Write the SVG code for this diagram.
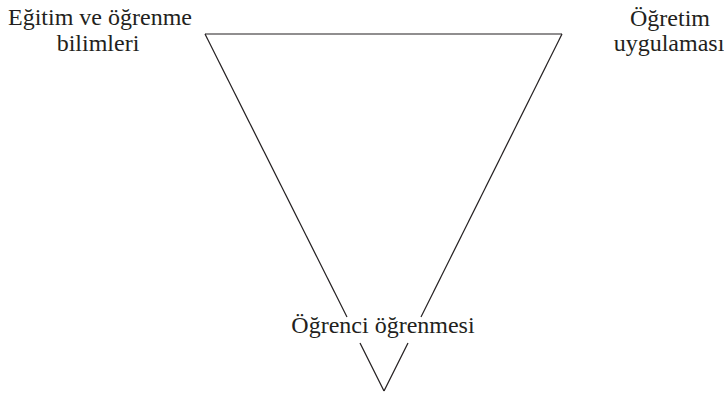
<svg xmlns="http://www.w3.org/2000/svg" width="724" height="393" viewBox="0 0 724 393">
  <style>
    .lbl { font-family: 'Liberation Serif', 'DejaVu Serif', serif; font-size: 24px; fill: #231f20; text-anchor: middle; }
    .edge { stroke: #231f20; stroke-width: 1.2; fill: none; stroke-linecap: butt; }
  </style>
  <rect width="724" height="393" fill="#ffffff"/>
  <g id="connectors">
    <line class="edge" x1="205" y1="34" x2="562" y2="34"/>
    <line class="edge" x1="205" y1="34" x2="347" y2="317"/>
    <line class="edge" x1="360" y1="343" x2="384" y2="391"/>
    <line class="edge" x1="562" y1="34" x2="421" y2="317"/>
    <line class="edge" x1="408" y1="343" x2="384" y2="391"/>
  </g>
  <g id="node-egitim">
    <text class="lbl" font-family="Liberation Serif, serif" x="100" y="25">Eğitim ve öğrenme</text>
    <text class="lbl" font-family="Liberation Serif, serif" x="98" y="51">bilimleri</text>
  </g>
  <g id="node-ogretim">
    <text class="lbl" font-family="Liberation Serif, serif" x="670" y="26">Öğretim</text>
    <text class="lbl" font-family="Liberation Serif, serif" x="669" y="51">uygulaması</text>
  </g>
  <g id="node-ogrenci">
    <text class="lbl" font-family="Liberation Serif, serif" x="383" y="333">Öğrenci öğrenmesi</text>
  </g>
</svg>
